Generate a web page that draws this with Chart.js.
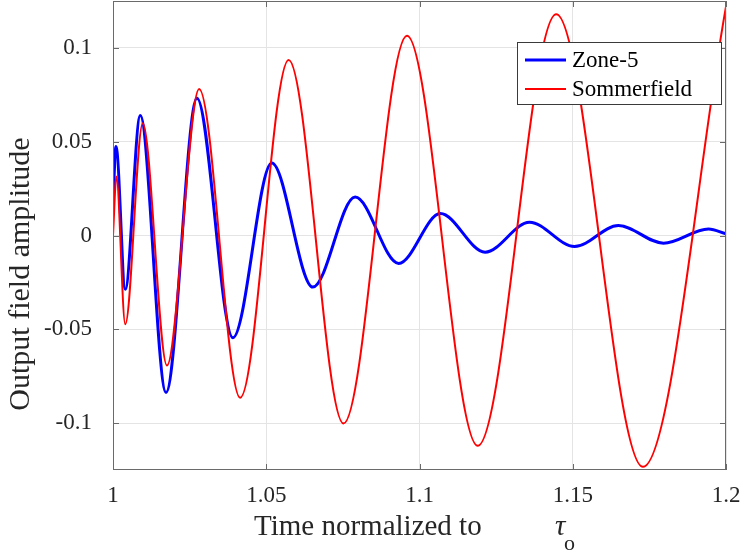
<!DOCTYPE html>
<html>
<head>
<meta charset="utf-8">
<script src="https://cdn.jsdelivr.net/npm/chart.js@4/dist/chart.umd.min.js"></script>
<style>
  html, body { margin: 0; padding: 0; background: #fff; }
  #wrap { width: 747px; height: 559px; }
</style>
</head>
<body>
<div id="wrap"><canvas id="myChart" width="747" height="559"></canvas></div>
<script>
// values: end points and each peak / trough
const zoneT = [1.0, 1.00098, 1.0040, 1.0089, 1.0173, 1.0274, 1.0391, 1.0518, 1.0652,
  1.0790, 1.0932, 1.1068, 1.1214, 1.1359, 1.1506, 1.1649, 1.1796, 1.1943, 1.2];
const zoneV = [0.018, 0.0475, -0.0287, 0.064, -0.0837, 0.0732, -0.0545, 0.0386, -0.0275,
  0.0205, -0.0149, 0.0117, -0.0089, 0.0071, -0.0059, 0.0053, -0.0041, 0.0035, 0.0009];

const sommT = [1.0, 1.0011, 1.0040, 1.0097, 1.0176, 1.0281, 1.0415, 1.0573, 1.0752,
  1.0959, 1.1190, 1.1446, 1.1729, 1.2];
const sommV = [0, 0.0315, -0.0473, 0.0599, -0.0693, 0.0781, -0.0865, 0.0936, -0.1002,
  0.1065, -0.1121, 0.1179, -0.1233, 0.122];

const xTicks = [1, 1.05, 1.1, 1.15, 1.2];
const yTicks = [-0.1, -0.05, 0, 0.05, 0.1];

const seriesNames = ["Zone-5", "Sommerfield"];
const seriesColors = ["#0000ff", "#ff0000"];

const SERIF = "'Liberation Serif', 'DejaVu Serif', serif";
const AXIS = "#6a6a6a";

function toPoints(ts, vs) {
  return ts.map((t, i) => ({ x: t, y: vs[i] }));
}

// box, inside ticks, legend and axis titles in the MATLAB style
const matlabFrame = {
  id: "matlabFrame",
  afterDatasetsDraw(chart) {
    const { ctx, chartArea: a, scales } = chart;
    ctx.save();
    ctx.strokeStyle = AXIS;
    ctx.lineWidth = 1;
    ctx.strokeRect(a.left + 0.5, a.top + 0.5, a.right - a.left - 1, a.bottom - a.top - 1);

    const tl = 6;
    ctx.beginPath();
    xTicks.forEach((v) => {
      const px = Math.round(scales.x.getPixelForValue(v)) + 0.5;
      ctx.moveTo(px, a.bottom);
      ctx.lineTo(px, a.bottom - tl);
      ctx.moveTo(px, a.top);
      ctx.lineTo(px, a.top + tl);
    });
    yTicks.forEach((v) => {
      const py = Math.round(scales.y.getPixelForValue(v)) + 0.5;
      ctx.moveTo(a.left, py);
      ctx.lineTo(a.left + tl, py);
      ctx.moveTo(a.right, py);
      ctx.lineTo(a.right - tl, py);
    });
    ctx.stroke();

    // legend
    ctx.fillStyle = "#fff";
    ctx.fillRect(517, 42, 205, 62);
    ctx.strokeStyle = "#3a3a3a";
    ctx.strokeRect(517.5, 42.5, 204, 62);
    const rows = [60, 89];
    const widths = [3, 2];
    ctx.font = "23px " + SERIF;
    ctx.textBaseline = "middle";
    ctx.textAlign = "left";
    seriesNames.forEach((name, i) => {
      ctx.strokeStyle = seriesColors[i];
      ctx.lineWidth = widths[i];
      ctx.beginPath();
      ctx.moveTo(525, rows[i]);
      ctx.lineTo(566, rows[i]);
      ctx.stroke();
      ctx.fillStyle = "#000";
      ctx.fillText(name, 572, rows[i] + 1);
    });
    ctx.restore();
  },
  afterDraw(chart) {
    const { ctx } = chart;
    ctx.save();
    ctx.fillStyle = "#262626";
    ctx.textBaseline = "alphabetic";

    // x title
    ctx.font = "29px " + SERIF;
    ctx.textAlign = "left";
    ctx.fillText("Time normalized to", 254, 535);
    ctx.font = "italic 29px " + SERIF;
    ctx.fillText("τ", 555, 535);
    ctx.font = "22px " + SERIF;
    ctx.fillText("o", 564, 550);

    // y title
    ctx.translate(29, 274);
    ctx.rotate(-Math.PI / 2);
    ctx.font = "30px " + SERIF;
    ctx.textAlign = "center";
    ctx.fillText("Output field amplitude", 0, 0);
    ctx.restore();
  },
};

const config = {
  type: "line",
  data: {
    datasets: [
      {
        label: seriesNames[0],
        data: toPoints(zoneT, zoneV),
        borderColor: seriesColors[0],
        borderWidth: 3,
        order: 1,
      },
      {
        label: seriesNames[1],
        data: toPoints(sommT, sommV),
        borderColor: seriesColors[1],
        borderWidth: 2,
        order: 0,
      },
    ],
  },
  options: {
    responsive: false,
    animation: false,
    parsing: false,
    elements: {
      point: { radius: 0 },
      line: { cubicInterpolationMode: "monotone", fill: false },
    },
    layout: { padding: { top: 1, right: 21, left: 0, bottom: 0 } },
    plugins: {
      legend: { display: false },
      tooltip: { enabled: false },
    },
    scales: {
      x: {
        type: "linear",
        min: 1,
        max: 1.2,
        afterFit: (s) => {
          s.height = 89;
          s.paddingLeft = 0;
          s.paddingRight = 0;
        },
        afterBuildTicks: (s) => { s.ticks = xTicks.map((v) => ({ value: v })); },
        ticks: {
          padding: 12,
          color: "#262626",
          font: { family: SERIF, size: 23 },
          callback: (v) => String(Number(v.toFixed(2))),
        },
        grid: { color: "#e4e4e4", drawTicks: false },
        border: { display: false },
      },
      y: {
        type: "linear",
        min: -0.125,
        max: 0.125,
        afterFit: (s) => {
          s.width = 113;
          s.paddingTop = 0;
          s.paddingBottom = 0;
        },
        afterBuildTicks: (s) => { s.ticks = yTicks.map((v) => ({ value: v })); },
        ticks: {
          padding: 21,
          color: "#262626",
          font: { family: SERIF, size: 23 },
          callback: (v) => String(Number(v.toFixed(2))),
        },
        grid: { color: "#e4e4e4", drawTicks: false },
        border: { display: false },
      },
    },
  },
  plugins: [matlabFrame],
};

const myChart = document.getElementById("myChart");
new Chart(myChart, config);
</script>
</body>
</html>
